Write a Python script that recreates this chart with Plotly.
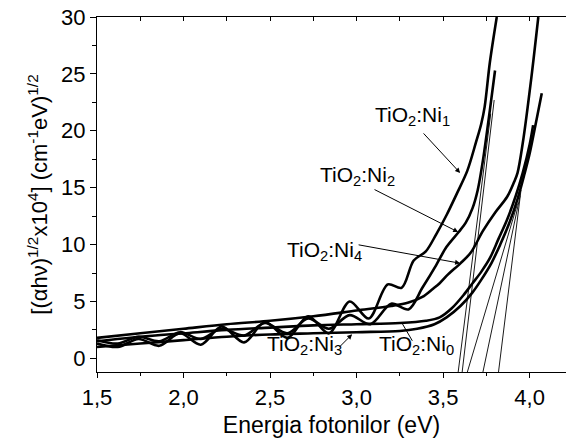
import plotly.graph_objects as go

# ---------------- data ----------------
ni1_x = [1.50, 1.62, 1.74, 1.86, 1.98, 2.10, 2.22, 2.35, 2.47, 2.60, 2.72, 2.84, 2.96, 3.07,
         3.18, 3.26, 3.33, 3.40, 3.46, 3.52, 3.58, 3.64, 3.69, 3.72, 3.74, 3.77, 3.81]
ni1_y = [1.3, 1.0, 1.7, 1.1, 2.2, 1.2, 2.8, 1.4, 3.2, 1.8, 3.7, 2.2, 5.0, 3.5,
         6.5, 6.2, 8.6, 9.4, 10.9, 12.6, 14.5, 16.5, 19.0, 20.6, 22.1, 26.0, 30.0]

ni2_x = [1.50, 1.62, 1.74, 1.86, 1.98, 2.10, 2.22, 2.35, 2.47, 2.60, 2.72, 2.84, 2.96, 3.08,
         3.20, 3.30, 3.38, 3.46, 3.52, 3.59, 3.63, 3.67, 3.70, 3.73, 3.77, 3.80]
ni2_y = [1.6, 1.3, 1.9, 1.5, 2.3, 1.7, 2.6, 2.0, 3.1, 2.2, 3.5, 2.6, 3.8, 3.0,
         4.8, 4.3, 6.2, 8.2, 9.8, 11.1, 11.9, 13.2, 14.8, 17.4, 21.8, 25.3]

ni4_x = [1.50, 1.75, 2.00, 2.25, 2.50, 2.75, 3.00, 3.20, 3.30, 3.38, 3.44, 3.48, 3.53, 3.60,
         3.66, 3.73, 3.80, 3.87, 3.91, 3.93, 3.96, 4.01, 4.05]
ni4_y = [1.8, 2.2, 2.6, 3.0, 3.3, 3.7, 4.2, 4.6, 4.9, 5.4, 6.1, 6.6, 7.4, 8.35,
         9.3, 11.2, 12.8, 14.2, 15.5, 16.3, 18.9, 24.7, 30.0]

ni0_x = [1.50, 1.75, 2.00, 2.25, 2.50, 2.75, 3.00, 3.25, 3.40, 3.48, 3.55, 3.62, 3.67, 3.72,
         3.77, 3.82, 3.87, 3.92, 3.96, 4.00, 4.02]
ni0_y = [1.5, 1.9, 2.2, 2.5, 2.7, 2.9, 3.0, 3.1, 3.3, 3.6, 4.4, 5.6, 6.6, 7.6,
         8.8, 10.5, 12.2, 14.3, 16.3, 18.8, 20.5]

ni3_x = [1.50, 1.75, 2.00, 2.25, 2.50, 2.75, 3.00, 3.25, 3.35, 3.45, 3.52, 3.60, 3.67, 3.72,
         3.78, 3.83, 3.88, 3.93, 3.97, 4.00, 4.04, 4.07]
ni3_y = [1.0, 1.3, 1.6, 1.9, 2.1, 2.2, 2.3, 2.4, 2.6, 3.0, 3.6, 4.6, 5.8, 6.9,
         8.4, 10.0, 11.8, 14.0, 16.2, 18.0, 21.0, 23.3]

# tangent (extrapolation) lines: [x_bottom, x_top], [y_bottom, y_top]
tan_x = [[3.587, 3.775], [3.61, 3.795], [3.64, 3.93], [3.73, 3.945], [3.82, 3.95]]
tan_y = [[-1.2, 21.5], [-1.2, 22.7], [-1.2, 13.6], [-1.2, 14.3], [-1.2, 14.8]]

x_ticks = [1.5, 2.0, 2.5, 3.0, 3.5, 4.0]
y_ticks = [0, 5, 10, 15, 20, 25, 30]

FONT = "Liberation Sans, Arial, sans-serif"

fig = go.Figure()

for xs, ys in zip(tan_x, tan_y):
    fig.add_trace(go.Scatter(x=xs, y=ys, mode="lines",
                             line=dict(color="black", width=0.9), showlegend=False, hoverinfo="skip"))

for xs, ys in [(ni1_x, ni1_y), (ni2_x, ni2_y), (ni4_x, ni4_y), (ni0_x, ni0_y), (ni3_x, ni3_y)]:
    fig.add_trace(go.Scatter(x=xs, y=ys, mode="lines",
                             line=dict(color="black", width=2.6, shape="spline", smoothing=0.9),
                             showlegend=False))

# empty trace to create the top axis (ticks pointing inward)
fig.add_trace(go.Scatter(x=[], y=[], xaxis="x2", showlegend=False))

labels = [
    ("TiO<sub>2</sub>:Ni<sub>1</sub>", 3.095, 21.3, (3.379, 19.9), (3.598, 16.3), 2),
    ("TiO<sub>2</sub>:Ni<sub>2</sub>", 2.777, 16.0, (3.095, 14.9), (3.587, 11.1), 2),
    ("TiO<sub>2</sub>:Ni<sub>4</sub>", 2.587, 9.4, (3.003, 10.0), (3.598, 8.36), 2),
    ("TiO<sub>2</sub>:Ni<sub>3</sub>", 2.471, 1.14, (2.893, 0.88), (2.974, 2.11), 2),
    ("TiO<sub>2</sub>:Ni<sub>0</sub>", 3.118, 1.14, (3.327, 1.41), (3.263, 3.08), 0),
]
for text, tx, ty, tail, head, ah in labels:
    fig.add_annotation(x=tx, y=ty, text=text, showarrow=False, xanchor="left", yanchor="middle",
                       font=dict(family=FONT, size=21, color="black"))
    fig.add_annotation(x=head[0], y=head[1], ax=tail[0], ay=tail[1], axref="x", ayref="y",
                       text="", showarrow=True, arrowhead=ah, arrowsize=1, arrowwidth=1,
                       arrowcolor="black")

fig.update_layout(
    width=566, height=440,
    margin=dict(l=97, r=0, t=17, b=68),
    paper_bgcolor="white", plot_bgcolor="white",
    separators=",.",
    font=dict(family=FONT, size=22, color="black"),
    xaxis=dict(range=[1.5, 4.21], tickvals=x_ticks, tickformat=".1f",
               ticks="outside", ticklen=5, tickwidth=1.2, tickcolor="black",
               minor=dict(dtick=0.25, tick0=1.5, ticks="outside", ticklen=3, tickcolor="black"),
               showline=True, linecolor="black", linewidth=1.3, showgrid=False, zeroline=False,
               title=dict(text="Energia fotonilor (eV)", font=dict(size=23), standoff=8)),
    xaxis2=dict(range=[1.5, 4.21], overlaying="x", side="top", showticklabels=False,
                dtick=0.25, tick0=1.5, ticks="inside", ticklen=4, tickcolor="black",
                showline=True, linecolor="black", linewidth=1.3, showgrid=False, zeroline=False),
    yaxis=dict(range=[-1.2, 30], tickvals=y_ticks,
               ticks="outside", ticklen=6, tickwidth=1.2, tickcolor="black",
               minor=dict(dtick=2.5, tick0=0, ticks="outside", ticklen=4, tickcolor="black"),
               showline=True, linecolor="black", linewidth=1.3, showgrid=False, zeroline=False,
               title=dict(text="[(αhν)<sup>1/2</sup>x10<sup>4</sup>] (cm<sup>-1</sup>eV)<sup>1/2</sup>",
                          font=dict(size=22), standoff=7)),
)

fig.write_html("out.html")
